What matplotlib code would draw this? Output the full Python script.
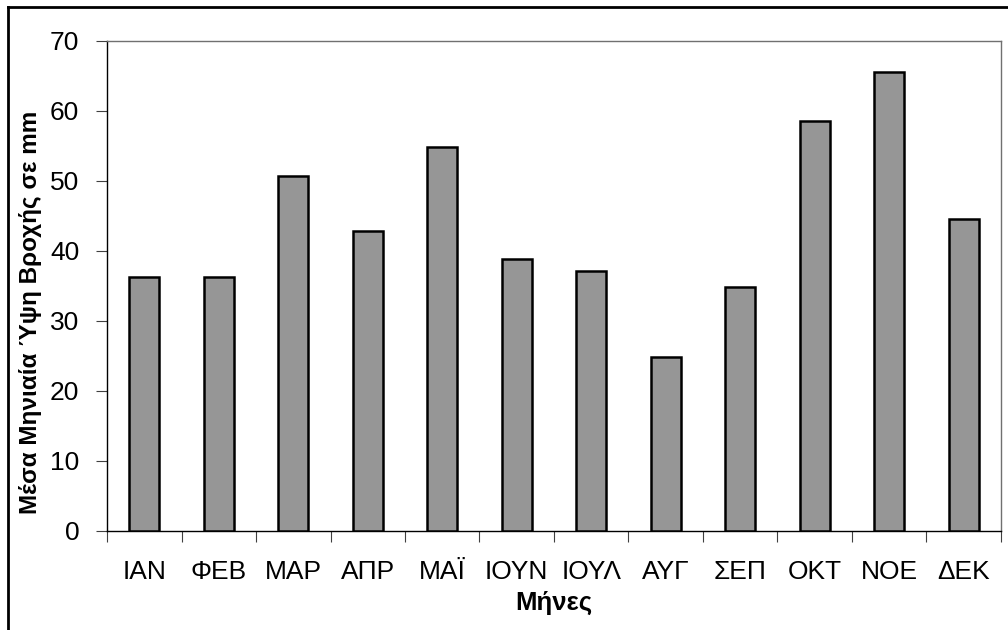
import matplotlib
matplotlib.use("Agg")
import matplotlib.pyplot as plt
from matplotlib.lines import Line2D
import numpy as np

months = ["ΙΑΝ", "ΦΕΒ", "ΜΑΡ", "ΑΠΡ", "ΜΑΪ", "ΙΟΥΝ", "ΙΟΥΛ", "ΑΥΓ", "ΣΕΠ", "ΟΚΤ", "ΝΟΕ", "ΔΕΚ"]
rain_mm = [36.3, 36.3, 50.7, 42.9, 54.8, 38.9, 37.2, 24.9, 34.9, 58.6, 65.6, 44.6]
yticks = [0, 10, 20, 30, 40, 50, 60, 70]

plt.rcParams['font.family'] = ['Liberation Sans', 'DejaVu Sans']

fig = plt.figure(figsize=(10.08, 6.3), dpi=100)
W, H = 1008, 630
ax = fig.add_axes([107 / W, 1 - 531 / H, (1001 - 107) / W, (531 - 41) / H])

x = np.arange(len(months))
ax.bar(x, rain_mm, width=0.4, color="#969696", edgecolor="black", linewidth=1.8, zorder=3)

ax.set_xlim(-0.5, len(months) - 0.5)
ax.set_ylim(0, 70)
ax.set_yticks(yticks)
ax.set_yticklabels([str(v) for v in yticks], fontsize=19)
ax.set_xticks(x)
ax.set_xticklabels(months, fontsize=19)
ax.set_xticks(np.arange(-0.5, len(months)), minor=True)
ax.tick_params(axis='x', which='major', length=0, pad=21)
ax.tick_params(axis='x', which='minor', length=8, width=0.8, color='#404040')
ax.tick_params(axis='y', which='major', length=8, width=0.8, color='#404040', pad=12)

for s in ['top', 'right']:
    ax.spines[s].set_color('#707070')
    ax.spines[s].set_linewidth(1.0)
for s in ['left', 'bottom']:
    ax.spines[s].set_color('black')
    ax.spines[s].set_linewidth(1.0)

fig.text(554 / W, 1 - 603 / H, "Μήνες", fontsize=18.5, fontweight='bold', ha='center', va='center')
fig.text(31 / W, 1 - 312 / H, "Μέσα Μηνιαία Ύψη Βροχής σε mm", fontsize=17.5, fontweight='bold',
         rotation=90, ha='center', va='center')

# outer figure frame (left and top visible)
fig.add_artist(Line2D([8 / W, 8 / W], [0, 1 - 7 / H], transform=fig.transFigure, color='black', lw=2))
fig.add_artist(Line2D([8 / W, 1], [1 - 7 / H, 1 - 7 / H], transform=fig.transFigure, color='black', lw=2))

fig.savefig("out.png", dpi=100)
